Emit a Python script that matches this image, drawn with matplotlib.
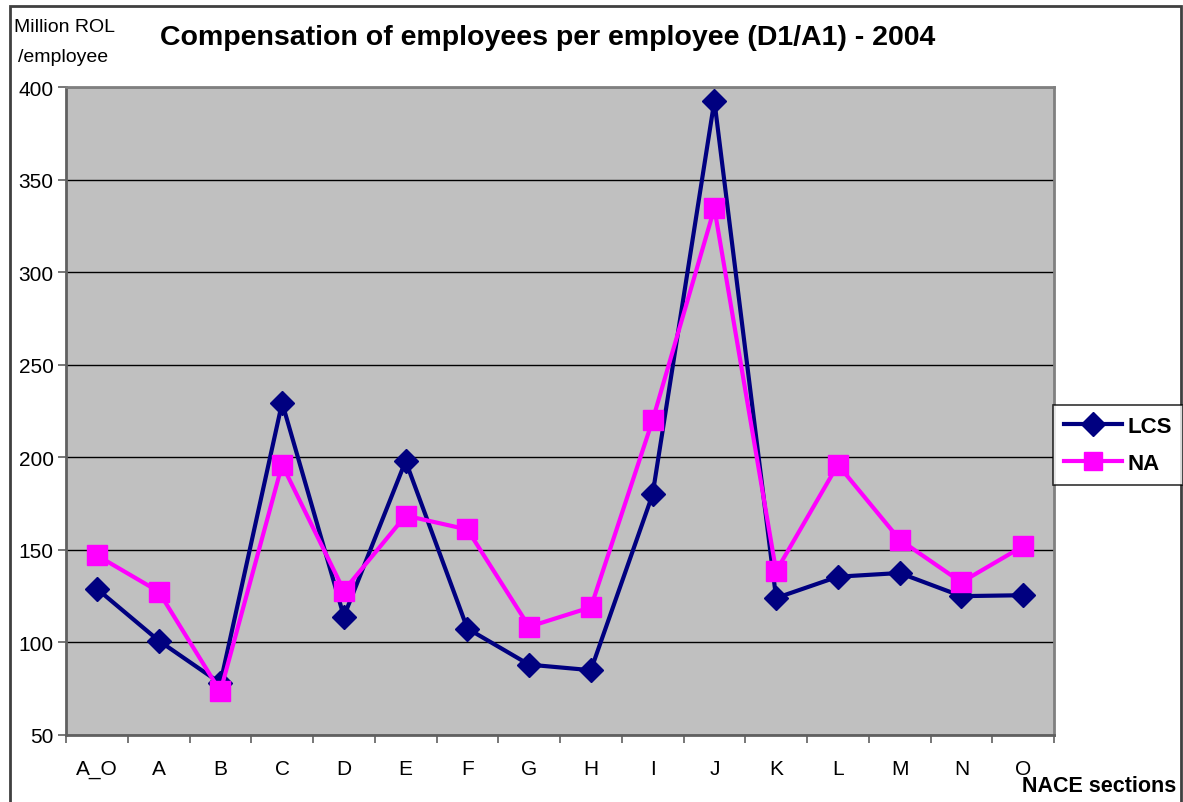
import matplotlib
matplotlib.use("Agg")
import matplotlib.pyplot as plt
from matplotlib.patches import Rectangle
from matplotlib.lines import Line2D

categories = ["A_O", "A", "B", "C", "D", "E", "F", "G", "H", "I", "J", "K", "L", "M", "N", "O"]
lcs = [129, 101, 78, 229.5, 114, 198, 107.5, 88, 85, 180, 392.5, 124, 135.5, 137.5, 125, 125.5]
na = [147, 127.5, 73.5, 196, 128, 168.5, 161, 108.5, 119, 220, 334.5, 138.5, 196, 155.5, 132.5, 152]
yticks = [50, 100, 150, 200, 250, 300, 350, 400]

plt.rcParams['font.family'] = ['Liberation Sans', 'DejaVu Sans']

fig = plt.figure(figsize=(11.83, 8.03), dpi=100)
ax = fig.add_axes([66/1183, 1-736/803, (1054-66)/1183, (736-88)/803])
ax.set_facecolor('#c0c0c0')

x = list(range(len(categories)))
ax.plot(x, lcs, color='#000080', lw=3, marker='D', markersize=12, label='LCS', zorder=3)
ax.plot(x, na, color='#ff00ff', lw=3, marker='s', markersize=14, label='NA', zorder=3)

ax.set_xlim(-0.5, len(categories) - 0.5)
ax.set_ylim(50, 400)
ax.set_yticks(yticks)
ax.set_yticklabels([str(v) for v in yticks], fontsize=15)
ax.yaxis.grid(True, color='black', lw=1)
ax.set_axisbelow(True)

ax.set_xticks(x)
ax.set_xticklabels(categories, fontsize=15)
ax.tick_params(axis='x', length=0, pad=17)
ax.set_xticks([i - 0.5 for i in range(len(categories) + 1)], minor=True)
ax.tick_params(axis='x', which='minor', length=6, width=1.2, color='#606060')
ax.tick_params(axis='y', length=6, width=1.2, color='#606060', pad=3)
for s in ['left', 'bottom']:
    ax.spines[s].set_color('#606060')
    ax.spines[s].set_linewidth(2)
for s in ['top', 'right']:
    ax.spines[s].set_color('#808080')
    ax.spines[s].set_linewidth(2)

fig.text(160/1183, 1-38/803, "Compensation of employees per employee (D1/A1) - 2004",
         fontsize=20.5, fontweight='bold', va='center', ha='left')
fig.text(14/1183, 1-28/803, "Million ROL", fontsize=14, va='center', ha='left')
fig.text(18/1183, 1-57/803, "/employee", fontsize=14, va='center', ha='left')
fig.text(1176/1183, 1-787/803, "NACE sections", fontsize=15.5, fontweight='bold', va='center', ha='right')

# figure border
fig.patches.append(Rectangle((10/1183, -0.01), (1181-10)/1183, 1-7/803 + 0.01, transform=fig.transFigure,
                             fill=False, edgecolor='#404040', lw=2))

leg = fig.legend(handles=[Line2D([], [], color='#000080', lw=3, marker='D', markersize=12),
                          Line2D([], [], color='#ff00ff', lw=3, marker='s', markersize=13)],
                 labels=['LCS', 'NA'], loc='center', bbox_to_anchor=(1118/1183, 1-446/803),
                 prop={'weight': 'bold', 'size': 16}, frameon=True, fancybox=False,
                 edgecolor='black', handlelength=2.6, borderpad=0.5, labelspacing=0.7, handletextpad=0.25,
                 borderaxespad=0)
leg.get_frame().set_linewidth(1.2)

fig.savefig("out.png", dpi=100)
